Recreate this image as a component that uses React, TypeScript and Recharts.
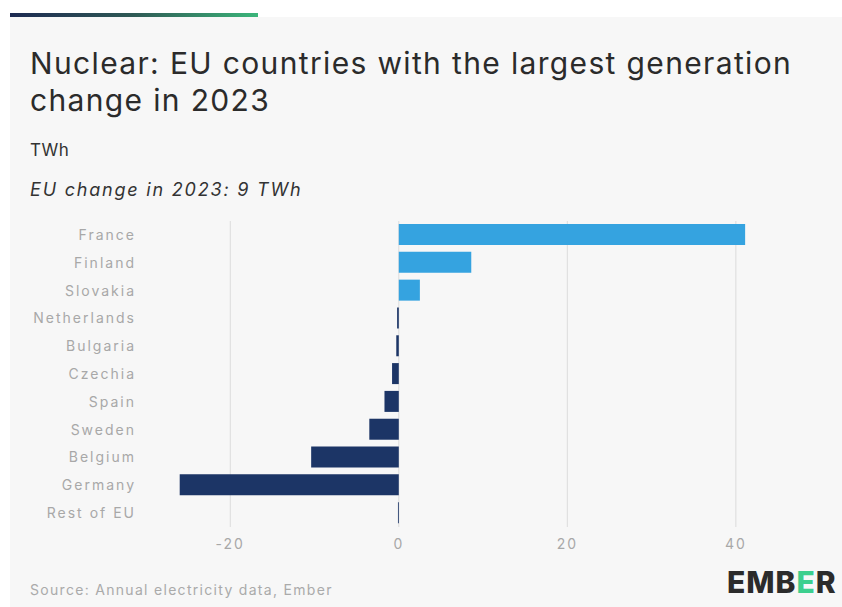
import React from "react";
import { BarChart, Bar, XAxis, YAxis, Cell, CartesianGrid } from "recharts";

const countries = ["France", "Finland", "Slovakia", "Netherlands", "Bulgaria", "Czechia", "Spain", "Sweden", "Belgium", "Germany", "Rest of EU"];
const changes = [41.1, 8.6, 2.5, -0.2, -0.3, -0.8, -1.7, -3.5, -10.4, -26.0, -0.1];
const xTicks = [-20, 0, 20, 40];

const data = countries.map((c, i) => ({ country: c, value: changes[i] }));

const POS = "#35a3e0";
const NEG = "#1c3566";
const FONT = "Inter, 'Noto Sans', sans-serif";

export default function App() {
  return (
    <div style={{ position: "absolute", left: 0, top: 0, width: 842, height: 607, background: "#ffffff", overflow: "hidden", fontFamily: FONT }}>
      <div style={{ position: "absolute", left: 10, top: 17, width: 832, height: 590, background: "#f7f7f7" }} />
      <div style={{ position: "absolute", left: 10, top: 13, width: 248, height: 4, background: "linear-gradient(90deg, #1d2a52 0%, #2f5a55 50%, #3bb57a 100%)" }} />
      <div style={{ position: "absolute", left: 30, top: 45, width: 805, fontSize: 30, lineHeight: "37px", color: "#2b2b2b", fontWeight: 400, letterSpacing: 1.35 }}>
        Nuclear: EU countries with the largest generation change in 2023
      </div>
      <div style={{ position: "absolute", left: 30, top: 139, fontSize: 17, color: "#333", lineHeight: "22px", letterSpacing: 0.5 }}>TWh</div>
      <div style={{ position: "absolute", left: 30, top: 179, fontSize: 18, color: "#333", fontStyle: "italic", lineHeight: "22px", letterSpacing: 1.8 }}>EU change in 2023: 9 TWh</div>
      <div style={{ position: "absolute", left: 0, top: 0 }}>
        <BarChart
          width={842}
          height={607}
          data={data}
          layout="vertical"
          margin={{ top: 221, right: 64, bottom: 50, left: 0 }}
          barSize={21}
        >
          <CartesianGrid horizontal={false} vertical={true} syncWithTicks={true} stroke="#dcdcdc" />
          <XAxis
            type="number"
            domain={[-30, 45]}
            ticks={xTicks}
            axisLine={false}
            tickLine={false}
            tickSize={0}
            tickMargin={12}
            height={30}
            tick={{ fill: "#a8a8a8", fontSize: 14, fontFamily: FONT, letterSpacing: 2 }}
          />
          <YAxis
            type="category"
            dataKey="country"
            width={146}
            axisLine={false}
            tickLine={false}
            tickSize={0}
            tickMargin={10}
            interval={0}
            tick={{ fill: "#a8a8a8", fontSize: 14, fontFamily: FONT, letterSpacing: 2 }}
          />
          <Bar dataKey="value" isAnimationActive={false}>
            {data.map((d, i) => (
              <Cell key={i} fill={d.value >= 0 ? POS : NEG} />
            ))}
          </Bar>
        </BarChart>
      </div>
      <div style={{ position: "absolute", left: 30, top: 581, fontSize: 14, color: "#aaa", lineHeight: "18px", letterSpacing: 1.3 }}>
        Source: Annual electricity data, Ember
      </div>
      <div style={{ position: "absolute", left: 727, top: 565, fontSize: 30, fontWeight: 800, color: "#2b2b2b", letterSpacing: 1, lineHeight: "34px" }}>
        EMB<span style={{ color: "#3ccf8e" }}>E</span>R
      </div>
    </div>
  );
}
